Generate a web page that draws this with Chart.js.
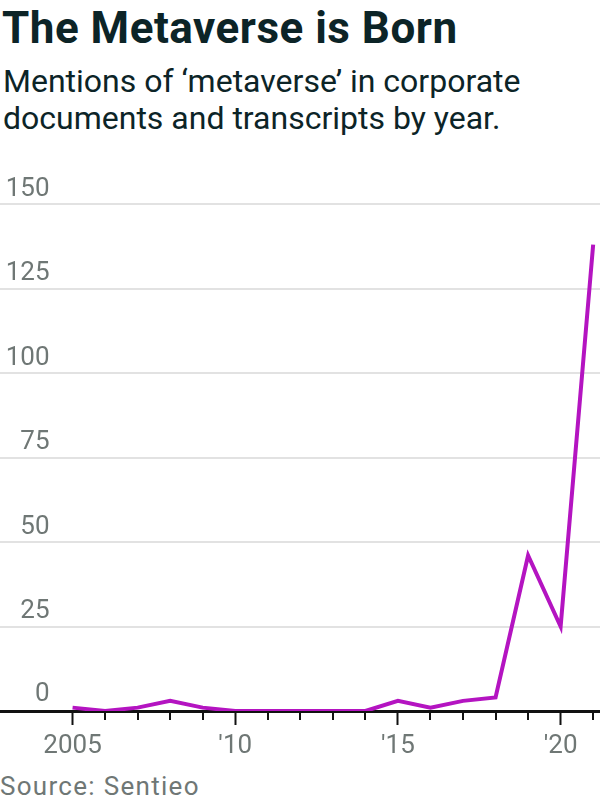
<!DOCTYPE html>
<html><head><meta charset="utf-8">
<script src="https://cdn.jsdelivr.net/npm/chart.js@4.4.1/dist/chart.umd.min.js"></script>
<style>
html,body{margin:0;padding:0;background:#fff;width:600px;height:800px;overflow:hidden;font-family:Roboto,sans-serif;}
#title{position:absolute;left:2px;top:0px;font-size:44px;line-height:56px;font-weight:700;color:#0c2427;letter-spacing:0.5px;white-space:nowrap;}
#sub{position:absolute;left:3px;top:63px;font-size:32px;line-height:37px;color:#0c2427;white-space:nowrap;}
#src{position:absolute;left:0px;top:770px;font-size:26px;line-height:32px;color:#6f7775;letter-spacing:1.3px;white-space:nowrap;}
#wrap{position:absolute;left:0;top:160px;width:600px;height:610px;}
</style></head>
<body>
<div id="title">The Metaverse is Born</div>
<div id="sub">Mentions of ‘metaverse’ in corporate<br>documents and transcripts by year.</div>
<div id="wrap"><canvas id="c"></canvas></div>
<div id="src">Source: Sentieo</div>
<script>
const years = [2005,2006,2007,2008,2009,2010,2011,2012,2013,2014,2015,2016,2017,2018,2019,2020,2021];
const mentions = [1,0,1,3,1,0,0,0,0,0,3,1,3,4,46,25,138];
const majorYears = [2005,2010,2015,2020];
const majorLabels = ['2005',"'10","'15","'20"];
const yTicks = [0,25,50,75,100,125,150];
const yLabels = ['0','25','50','75','100','125','150'];

const GRAY = '#6f7775';
const INK = '#111111';

const decor = {
  id: 'decor',
  beforeDatasetsDraw(chart) {
    const ctx = chart.ctx, x = chart.scales.x, y = chart.scales.y, ca = chart.chartArea;
    ctx.save();
    // minor ticks
    ctx.strokeStyle = INK; ctx.lineWidth = 2;
    years.forEach(yr => {
      if (majorYears.includes(yr)) return;
      const px = Math.round(x.getPixelForValue(yr));
      ctx.beginPath(); ctx.moveTo(px, ca.bottom); ctx.lineTo(px, ca.bottom + 9); ctx.stroke();
    });
    // y labels above gridlines
    ctx.fillStyle = GRAY; ctx.font = '26px Roboto'; ctx.textAlign = 'right'; ctx.textBaseline = 'alphabetic';
    yTicks.forEach((v, i) => {
      const py = y.getPixelForValue(v);
      ctx.fillText(yLabels[i], 49.5, py - (v === 0 ? 10 : 8.5));
    });
    ctx.restore();
  }
};

new Chart(document.getElementById('c'), {
  type: 'line',
  data: {
    datasets: [{
      data: years.map((yr, i) => ({x: yr, y: mentions[i]})),
      borderColor: '#b414c1',
      borderWidth: 4,
      pointRadius: 0,
      tension: 0,
      fill: false,
      borderJoinStyle: 'miter'
    }]
  },
  options: {
    responsive: true,
    maintainAspectRatio: false,
    animation: false,
    layout: {padding: {top: 44, left: 0, right: 0, bottom: 0}},
    plugins: {legend: {display: false}, tooltip: {enabled: false}, title: {display: false}},
    scales: {
      x: {
        type: 'linear',
        min: 2002.77,
        max: 2021.21,
        afterBuildTicks: a => { a.ticks = majorYears.map(v => ({value: v})); },
        afterFit: a => { a.height = 59; },
        ticks: {
          callback: v => { const i = majorYears.indexOf(v); return i >= 0 ? majorLabels[i] : ''; },
          font: {size: 26, family: 'Roboto'},
          color: GRAY,
          padding: 6,
          maxRotation: 0,
          autoSkip: false
        },
        grid: {drawOnChartArea: false, drawTicks: true, tickLength: 14, tickWidth: 2, tickColor: INK},
        border: {color: INK, width: 3}
      },
      y: {
        min: 0,
        max: 150,
        afterBuildTicks: a => { a.ticks = yTicks.map(v => ({value: v})); },
        afterFit: a => { a.width = 0; },
        ticks: {display: false},
        grid: {color: c => (c.tick && c.tick.value === 0) ? 'rgba(0,0,0,0)' : '#e2e2e2', lineWidth: 2, drawTicks: false},
        border: {display: false}
      }
    }
  },
  plugins: [decor]
});
</script>
</body></html>
